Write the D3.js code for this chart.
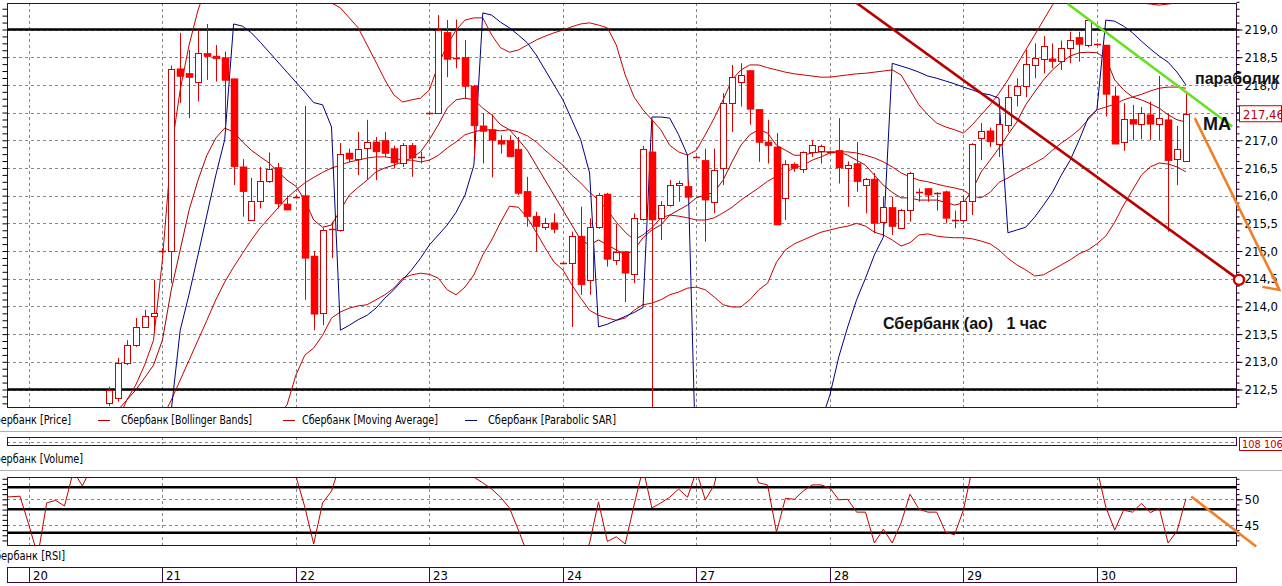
<!DOCTYPE html>
<html><head><meta charset="utf-8">
<script src="https://cdn.jsdelivr.net/npm/d3@7"></script>
<style>
html,body{margin:0;padding:0;background:#fff;overflow:hidden;}
svg{display:block;}
</style></head><body>
<svg id="c" width="1282" height="586"></svg>
<script>
// ---------- DATA ----------
const days = ["20","21","22","23","24","27","28","29","30"];
const dayStartIdx = [-9,6,21,36,51,66,81,96,111];
const open = [212.27,212.35,212.98,213.30,213.63,213.83,215.00,215.00,218.29,218.21,
218.05,218.57,218.52,218.49,218.11,216.52,215.56,215.90,216.28,216.51,
215.85,215.98,216.00,214.91,213.88,215.38,215.38,216.77,216.66,216.85,
216.97,217.00,216.85,216.59,216.91,216.70,217.49,217.49,218.95,218.49,
218.50,217.98,217.26,217.19,217.00,217.00,216.84,216.08,215.63,215.44,
215.51,214.78,214.78,215.27,214.48,215.44,216.03,214.85,214.99,214.58,
215.59,216.79,215.59,215.83,216.18,216.17,216.70,216.64,215.89,216.49,
217.67,218.06,218.26,217.56,216.97,216.88,215.95,216.57,216.49,216.79,
216.81,216.79,216.82,216.50,216.58,216.20,216.30,215.53,215.79,215.43,
215.75,216.06,216.13,216.05,216.07,215.56,215.56,215.90,217.05,217.17,
216.93,217.28,217.82,217.98,218.36,218.48,218.47,218.42,218.66,218.86,
218.72,218.73,218.72,217.80,216.96,217.38,217.29,217.46,217.29,217.37,
216.66,216.63];
const high = [212.55,213.07,213.39,213.79,213.94,214.48,215.05,218.35,218.94,218.63,
219.00,219.10,218.72,218.60,218.11,216.66,216.32,216.52,216.78,216.59,
216.00,216.02,217.62,215.00,215.42,215.53,216.95,216.85,217.15,217.37,
217.06,217.15,216.90,216.95,216.95,216.79,217.52,219.26,219.17,219.18,
218.81,218.00,217.49,217.47,217.09,217.09,217.06,216.34,215.71,215.60,
215.68,214.80,215.35,215.80,215.59,216.05,216.05,215.49,215.00,215.68,
216.90,217.37,215.90,216.28,216.27,216.28,216.72,216.85,216.85,217.85,
218.36,218.39,218.26,217.56,217.37,217.13,216.64,216.60,216.80,217.00,
216.92,216.81,217.40,216.62,216.97,216.32,216.41,215.98,215.98,215.76,
216.43,216.13,216.13,216.06,216.09,215.73,216.00,216.95,217.31,217.23,
217.49,218.00,218.12,218.63,218.75,218.88,218.75,218.80,218.96,218.96,
219.17,218.75,218.72,217.97,217.67,217.64,217.60,217.70,218.16,217.49,
217.26,217.85];
const low = [212.20,212.28,212.94,213.27,213.61,213.52,214.95,214.42,217.67,217.40,
217.70,218.09,218.06,217.25,216.19,215.62,215.56,215.77,216.23,215.77,
215.74,215.95,214.12,213.57,213.66,214.87,215.35,216.60,216.37,216.29,
216.28,216.70,216.49,216.52,216.34,216.58,217.46,217.49,218.14,218.30,
217.76,216.70,216.58,216.33,216.76,216.70,216.01,215.44,214.99,215.38,
215.32,214.76,213.63,214.21,214.21,215.40,214.72,214.75,214.08,214.42,
215.55,210.80,215.20,215.80,215.89,215.92,216.68,215.17,215.68,216.19,
217.15,217.61,217.28,216.61,216.58,215.47,215.56,216.43,216.41,216.70,
216.58,216.77,216.22,215.80,216.07,215.68,215.32,215.41,215.29,215.42,
215.53,215.89,215.89,215.73,215.50,215.41,215.50,215.65,216.64,216.88,
216.70,217.15,217.61,217.78,218.12,218.21,218.30,218.27,218.39,218.42,
218.68,218.71,217.43,216.93,216.81,217.00,217.02,217.00,217.00,215.35,
216.19,216.63];
const close = [212.50,212.98,213.30,213.63,213.83,213.89,215.00,218.29,218.15,218.13,
218.57,218.51,218.47,218.08,216.52,216.07,215.90,216.27,216.49,215.85,
215.74,215.98,214.87,213.86,215.38,215.39,216.75,216.66,216.84,216.96,
216.79,216.76,216.59,216.91,216.68,216.70,217.49,218.99,218.46,218.49,
217.97,217.26,217.16,217.00,216.93,216.70,216.04,215.62,215.44,215.51,
215.39,214.78,215.27,214.39,215.44,216.01,214.85,214.99,214.60,215.59,
216.85,215.56,215.83,216.19,216.22,215.97,216.70,215.92,216.46,217.67,
218.14,218.18,217.56,216.96,216.90,215.47,216.57,216.49,216.79,216.91,
216.90,216.79,216.50,216.56,216.25,216.30,215.50,215.80,215.44,215.75,
216.41,216.06,216.01,216.05,215.59,215.56,215.90,216.93,217.17,216.97,
217.29,217.78,217.98,218.38,218.48,218.71,218.42,218.66,218.81,218.73,
219.17,218.73,217.83,216.93,217.38,217.29,217.49,217.29,217.40,216.63,
216.84,217.47];
const bbUpper = [211.59,211.95,212.31,212.58,212.94,213.39,214.84,216.82,217.91,218.72,
219.35,219.80,220.08,220.26,220.35,220.35,220.35,220.35,220.26,220.17,
220.08,219.98,219.89,219.71,219.59,219.48,219.39,219.21,219.03,218.72,
218.41,218.09,217.82,217.69,217.73,217.76,217.91,218.36,218.72,218.99,
219.17,219.21,219.21,218.90,218.67,218.59,218.63,218.72,218.81,218.88,
218.94,218.99,219.05,219.10,219.12,219.08,219.03,218.72,218.18,217.78,
217.55,217.37,217.19,216.91,216.79,216.73,216.82,217.10,217.40,217.73,
218.09,218.27,218.36,218.36,218.31,218.27,218.23,218.20,218.18,218.16,
218.14,218.14,218.16,218.18,218.20,218.21,218.23,218.25,218.27,218.18,
217.91,217.64,217.46,217.31,217.24,217.19,217.13,217.28,217.46,217.64,
217.85,218.09,218.36,218.63,218.90,219.17,219.44,219.62,219.71,219.80,
219.80,219.75,219.68,219.60,219.53,219.50,219.48,219.46,219.44,219.46,
219.48,219.48];
const bbMiddle = [211.05,211.19,211.32,211.46,211.59,211.77,211.99,212.31,212.67,213.03,
213.39,213.75,214.12,214.44,214.71,214.96,215.20,215.42,215.60,215.78,
215.96,216.10,216.23,216.33,216.42,216.50,216.55,216.61,216.64,216.68,
216.70,216.70,216.68,216.64,216.64,216.61,216.64,216.73,216.86,216.97,
217.10,217.15,217.19,217.19,217.17,217.19,217.15,217.08,216.97,216.82,
216.68,216.55,216.37,216.23,216.06,215.92,215.74,215.52,215.34,215.20,
215.29,215.42,215.60,215.65,215.63,215.60,215.56,215.56,215.60,215.69,
215.79,215.92,216.03,216.14,216.26,216.35,216.42,216.50,216.55,216.64,
216.70,216.77,216.79,216.79,216.77,216.73,216.68,216.61,216.52,216.41,
216.34,216.28,216.25,216.21,216.17,216.14,216.10,215.99,215.96,216.06,
216.24,216.32,216.41,216.50,216.59,216.68,216.82,216.95,217.06,217.19,
217.37,217.55,217.60,217.65,217.73,217.78,217.83,217.89,217.94,217.96,
217.96,217.94];
const bbLower = [208.70,208.74,208.79,208.88,208.97,209.06,209.15,209.24,209.42,209.60,
209.78,210.05,210.32,210.59,210.86,211.14,211.41,211.62,211.80,212.04,
212.22,212.76,213.12,213.25,213.48,213.79,213.90,213.97,214.01,214.03,
214.12,214.21,214.33,214.51,214.57,214.60,214.58,214.51,214.30,214.21,
214.35,214.57,214.93,215.20,215.52,215.81,215.79,215.60,215.34,215.06,
214.80,214.66,214.39,214.15,213.93,213.84,213.79,213.75,213.79,213.93,
214.03,214.06,214.12,214.21,214.26,214.33,214.35,214.30,214.17,214.03,
213.99,213.99,214.12,214.30,214.42,214.80,215.02,215.13,215.20,215.27,
215.34,215.38,215.42,215.45,215.50,215.45,215.34,215.29,215.20,215.09,
215.15,215.29,215.31,215.27,215.25,215.24,215.24,215.22,215.18,215.13,
215.02,214.87,214.75,214.66,214.55,214.57,214.66,214.75,214.84,214.95,
215.02,215.13,215.27,215.52,215.83,216.10,216.37,216.52,216.59,216.57,
216.52,216.43];
const movingAvg = [211.95,212.13,212.31,212.49,212.71,212.94,213.39,214.30,215.02,215.74,
216.28,216.73,217.04,217.22,217.15,216.97,216.82,216.70,216.59,216.43,
216.28,216.17,215.92,215.56,215.43,215.47,215.74,216.01,216.15,216.28,
216.43,216.50,216.55,216.61,216.68,216.79,217.01,217.28,217.58,217.73,
217.76,217.73,217.58,217.46,217.28,217.19,217.01,216.82,216.55,216.28,
216.01,215.74,215.47,215.20,215.11,215.20,215.11,215.02,214.93,215.02,
215.24,215.38,215.47,215.65,215.74,215.83,215.96,216.01,216.06,216.28,
216.61,216.91,217.10,217.19,217.13,216.91,216.82,216.73,216.73,216.77,
216.79,216.79,216.79,216.73,216.64,216.55,216.37,216.19,216.06,215.96,
215.96,215.92,215.92,215.92,215.88,215.83,215.87,216.10,216.43,216.64,
216.86,217.10,217.33,217.64,217.87,218.09,218.27,218.41,218.52,218.58,
218.59,218.58,218.48,218.09,217.91,217.78,217.73,217.66,217.58,217.46,
217.37,217.33];
const sar = [209.50,209.80,210.10,210.40,210.80,211.20,211.60,212.13,213.57,214.22,
214.93,215.65,216.37,217.01,219.10,219.06,218.94,218.77,218.59,218.41,
218.23,218.05,217.87,217.68,217.64,217.24,213.57,213.66,213.76,213.84,
213.97,214.15,214.30,214.48,214.66,214.87,215.11,215.29,215.47,215.70,
216.01,216.55,219.30,219.26,219.13,219.03,218.90,218.76,218.54,218.27,
218.00,217.73,217.37,217.01,216.41,213.63,213.68,213.75,213.82,213.89,
213.98,217.42,217.42,217.40,217.10,216.73,210.80,210.88,210.96,211.04,
211.12,211.20,211.28,211.36,211.44,211.52,211.60,211.68,211.76,211.84,
211.92,212.40,213.09,213.63,214.12,214.51,214.93,215.25,218.39,218.34,
218.29,218.23,218.16,218.12,218.07,218.02,217.96,217.91,217.85,217.82,
217.76,215.33,215.38,215.43,215.61,215.83,216.06,216.37,216.64,217.00,
217.40,217.55,219.17,219.15,219.06,218.94,218.79,218.65,218.52,218.41,
218.23,218.00];
const rsiStart = -12;
const rsi = [50.4,50.5,50.6,45.0,39.0,49.3,49.8,48.7,55.5,52.6,
56.0,58.0,60,63,66,68,70,71,74,80,
78,77,78,77,76,73,63,60,58,60,
61,57,56,54.5,48.5,41.3,49.3,51.6,57,57,
58,58,57,57,56,57,56,56,60,66,
63,63,59,54.3,53.2,52.0,50.4,48.3,44.0,39.5,
38.5,39,38.5,36,39.5,37,41.5,49.5,41.8,42.7,
41.3,48.9,56,48.3,49.3,50.4,52.0,50.4,55.5,49.9,
52.8,60,64,64,58,53.2,52.8,43.6,50.2,50.0,
51.6,52.8,52.8,52.2,49.9,50.0,47.5,47.5,41.5,44.2,
41.5,45.4,51.0,48.1,47.5,47.5,43.6,43.1,47.9,56,
58,56,58,62,63,66,66,68,66,67,
68,66,69,56,48.5,44.0,47.9,47.5,49.2,47.4,
48.3,41.5,43.8,50.1];
const priceTicks = [212.5,213.0,213.5,214.0,214.5,215.0,215.5,216.0,216.5,217.0,217.5,218.0,218.5,219.0];
const rsiTicks = [45,50];
const priceLevels = [219.0,212.5];
const rsiLevels = [52.33,48.05,43.5];
const lastPrice = "217,46";
const volumeLabel = "108 106";
const legendItems = ["Сбербанк [Bollinger Bands]","Сбербанк [Moving Average]","Сбербанк [Parabolic SAR]"];
const title = "Сбербанк (ао)   1 час";
// annotations (index, price)
const trendRed = [[84.0,219.48],[126.97,214.48]];
const trendGreen = [[107.75,219.46],[126.2,217.25]];
const arrowOrange = [[122.0,217.40],[131.5,214.30]];
const arrowRsi = [[121.6,50.54],[128.9,40.8]];

// ---------- LAYOUT ----------
const svg = d3.select("#c");
const L=7, R=1236, T=3, B=407;
const RT=477, RB=545;
const NARROW = '"Liberation Sans Narrow","DejaVu Sans Condensed","Arial Narrow",sans-serif';
const BOLD = '"Liberation Sans",Arial,sans-serif';
const N = open.length;
const x = d3.scaleLinear().domain([0, 1]).range([109, 117.9]);
const y = d3.scaleLinear().domain([212.5, 219]).range([389.5, 29.5]);
const yr = d3.scaleLinear().domain([45, 50]).range([525, 499.3]);
const frameCol = "#3a0a3a";
const px = v => Math.round(v) + 0.5;

const defs = svg.append("defs");
defs.append("clipPath").attr("id","cpMain").append("rect").attr("x",L).attr("y",T).attr("width",R-L).attr("height",B-T);
defs.append("clipPath").attr("id","cpRsi").append("rect").attr("x",L).attr("y",RT).attr("width",R-L).attr("height",RB-RT);
defs.append("clipPath").attr("id","cpTop").append("rect").attr("x",0).attr("y",T).attr("width",1282).attr("height",586);

// ---------- MAIN PANEL ----------
const g = svg.append("g");
g.selectAll("line.hg").data(priceTicks).join("line")
  .attr("x1",L).attr("x2",R).attr("y1",d=>px(y(d))).attr("y2",d=>px(y(d)))
  .attr("stroke","#888").attr("stroke-dasharray","3,3").attr("stroke-width",1);
g.selectAll("line.vg").data(dayStartIdx).join("line")
  .attr("x1",d=>px(x(d))).attr("x2",d=>px(x(d))).attr("y1",T).attr("y2",B)
  .attr("stroke","#888").attr("stroke-dasharray","3,3");
g.selectAll("line.lv").data(priceLevels).join("line")
  .attr("x1",L).attr("x2",R).attr("y1",d=>y(d)).attr("y2",d=>y(d))
  .attr("stroke","#000").attr("stroke-width",2.6);

const clipG = svg.append("g").attr("clip-path","url(#cpMain)");
const idx = d3.range(N);
function drawLine(arr, col, w){
  clipG.append("path").datum(idx)
    .attr("d", d3.line().x(i=>x(i)).y(i=>y(arr[i])))
    .attr("fill","none").attr("stroke",col).attr("stroke-width",w||1);
}
drawLine(bbUpper,"#c80000");
drawLine(bbMiddle,"#c80000");
drawLine(bbLower,"#c80000");
drawLine(movingAvg,"#a80000");
drawLine(sar,"#000080");

// candles
const cg = clipG.append("g");
idx.forEach(i=>{
  const cx = Math.round(x(i)) + 0.5;
  cg.append("line").attr("x1",cx).attr("x2",cx).attr("y1",y(high[i])).attr("y2",y(low[i]))
    .attr("stroke","#e00000").attr("stroke-width",1);
  const o=open[i], c=close[i];
  const top=y(Math.max(o,c)), bot=y(Math.min(o,c));
  if (Math.abs(o-c) < 0.02){
    cg.append("line").attr("x1",cx-3.5).attr("x2",cx+3.5).attr("y1",px(top)).attr("y2",px(top))
      .attr("stroke","#e00000").attr("stroke-width",1.5);
  } else if (c < o){
    cg.append("rect").attr("x",cx-3.5).attr("y",top).attr("width",7).attr("height",Math.max(1,bot-top))
      .attr("fill","#ff0000").attr("stroke","#f00000").attr("stroke-width",0.5);
  } else {
    cg.append("rect").attr("x",cx-3).attr("y",Math.round(top)+0.5).attr("width",6).attr("height",Math.max(1,Math.round(bot-top)))
      .attr("fill","#fff").attr("stroke","#d00000").attr("stroke-width",1);
  }
});

svg.append("rect").attr("x",L+0.5).attr("y",T+0.5).attr("width",R-L).attr("height",B-T)
  .attr("fill","none").attr("stroke",frameCol);

// right axis
const minorTicks = d3.range(212.25, 219.51, 0.125);
const axR = svg.append("g").attr("transform",`translate(${R+0.5},0)`)
  .call(d3.axisRight(y).tickValues(minorTicks).tickSize(3).tickFormat(""));
axR.select(".domain").remove();
axR.selectAll("line").attr("stroke","#000");
const axR2 = svg.append("g").attr("transform",`translate(${R+0.5},0)`)
  .call(d3.axisRight(y).tickValues(priceTicks).tickSize(6).tickPadding(2).tickFormat(d=>d.toFixed(1).replace(".",",")));
axR2.select(".domain").remove();
axR2.selectAll("line").attr("stroke","#000");
axR2.selectAll("text").attr("font-family",NARROW).attr("font-size",13).attr("fill","#000");
const axL = svg.append("g").attr("transform",`translate(${L+0.5},0)`)
  .call(d3.axisLeft(y).tickValues(minorTicks.filter(d=>y(d)>T && y(d)<B)).tickSize(5).tickFormat(""));
axL.select(".domain").remove();
axL.selectAll("line").attr("stroke","#000");

svg.append("rect").attr("x",1239.5).attr("y",y(217.47)-8.5).attr("width",42).attr("height",16)
  .attr("fill","#fff").attr("stroke","#c00000");
svg.append("text").attr("x",1243).attr("y",y(217.47)+4.5).text(lastPrice)
  .attr("font-family",NARROW).attr("font-size",13).attr("fill","#c00000");

// annotations
const topG = svg.append("g").attr("clip-path","url(#cpTop)");
const ln = d3.line().x(d=>x(d[0])).y(d=>y(d[1]));
topG.append("path").attr("d",ln(trendRed)).attr("stroke","#b80000").attr("stroke-width",2.6).attr("fill","none");
topG.append("path").attr("d",ln(trendGreen)).attr("stroke","#66e020").attr("stroke-width",2.6).attr("fill","none");
svg.append("path").attr("d",ln(arrowOrange)).attr("stroke","#f08028").attr("stroke-width",2.6).attr("fill","none");
{
  const tx=x(arrowOrange[1][0]), ty=y(arrowOrange[1][1]);
  svg.append("path").attr("d",`M${tx-17},${ty-3} L${tx},${ty} L${tx-7},${ty-16}`)
    .attr("stroke","#f08028").attr("stroke-width",2.4).attr("fill","none");
}
svg.append("circle").attr("cx",x(trendRed[1][0])).attr("cy",y(trendRed[1][1])).attr("r",5)
  .attr("fill","#fff").attr("stroke","#d00000").attr("stroke-width",2.4);

svg.append("text").attr("x",883).attr("y",329).text(title)
  .attr("font-family",BOLD).attr("font-weight","bold").attr("font-size",16).attr("fill","#111").attr("xml:space","preserve").style("white-space","pre");
svg.append("text").attr("x",1195).attr("y",84).text("параболик")
  .attr("font-family",BOLD).attr("font-weight","bold").attr("font-size",16).attr("fill","#111");
svg.append("text").attr("x",1203).attr("y",130).text("MA")
  .attr("font-family",BOLD).attr("font-weight","bold").attr("font-size",18).attr("fill","#111");

// ---------- LEGEND ----------
svg.append("text").attr("x",-12).attr("y",424).text("Сбербанк [Price]")
  .attr("font-family",NARROW).attr("font-size",12).attr("textLength",83).attr("lengthAdjust","spacingAndGlyphs");
const legX = [[98,110,121,131,"#c00000"],[283,295,302,136,"#c00000"],[465,477,488,128,"#000080"]];
legendItems.forEach((t,k)=>{
  const [a,b,tx,tl,col]=legX[k];
  svg.append("line").attr("x1",a).attr("x2",b).attr("y1",420.5).attr("y2",420.5).attr("stroke",col);
  svg.append("text").attr("x",tx).attr("y",424).text(t)
    .attr("font-family",NARROW).attr("font-size",12).attr("textLength",tl).attr("lengthAdjust","spacingAndGlyphs");
});
svg.append("line").attr("x1",0).attr("x2",1282).attr("y1",431.5).attr("y2",431.5).attr("stroke","#b0b0b0");

// ---------- VOLUME STRIP ----------
svg.append("line").attr("x1",L).attr("x2",R).attr("y1",442.5).attr("y2",442.5).attr("stroke","#888").attr("stroke-dasharray","3,3");
svg.selectAll("line.vv").data(dayStartIdx).join("line")
  .attr("x1",d=>px(x(d))).attr("x2",d=>px(x(d))).attr("y1",438).attr("y2",446)
  .attr("stroke","#888").attr("stroke-dasharray","2,2");
svg.append("rect").attr("x",L+0.5).attr("y",437.5).attr("width",R-L).attr("height",8)
  .attr("fill","none").attr("stroke",frameCol);
svg.append("rect").attr("x",1239.5).attr("y",437.5).attr("width",45).attr("height",13)
  .attr("fill","#fff").attr("stroke","#c00000");
svg.append("text").attr("x",1242).attr("y",448).text(volumeLabel)
  .attr("font-family",NARROW).attr("font-size",11).attr("fill","#c00000");
svg.append("text").attr("x",-12).attr("y",463).text("Сбербанк [Volume]")
  .attr("font-family",NARROW).attr("font-size",12).attr("textLength",95).attr("lengthAdjust","spacingAndGlyphs");
svg.append("line").attr("x1",0).attr("x2",1282).attr("y1",470.5).attr("y2",470.5).attr("stroke","#b0b0b0");

// ---------- RSI PANEL ----------
svg.selectAll("line.rg").data(rsiTicks).join("line")
  .attr("x1",L).attr("x2",R).attr("y1",d=>px(yr(d))).attr("y2",d=>px(yr(d)))
  .attr("stroke","#888").attr("stroke-dasharray","3,3");
svg.selectAll("line.rv").data(dayStartIdx).join("line")
  .attr("x1",d=>px(x(d))).attr("x2",d=>px(x(d))).attr("y1",RT).attr("y2",RB)
  .attr("stroke","#888").attr("stroke-dasharray","3,3");
svg.selectAll("line.rl").data(rsiLevels).join("line")
  .attr("x1",L).attr("x2",R).attr("y1",d=>yr(d)).attr("y2",d=>yr(d))
  .attr("stroke","#000").attr("stroke-width",2.6);
svg.append("g").attr("clip-path","url(#cpRsi)").append("path")
  .datum(d3.range(rsi.length))
  .attr("d",d3.line().x(j=>x(j+rsiStart)).y(j=>yr(rsi[j])))
  .attr("fill","none").attr("stroke","#c00000").attr("stroke-width",1);
svg.append("rect").attr("x",L+0.5).attr("y",RT+0.5).attr("width",R-L).attr("height",RB-RT)
  .attr("fill","none").attr("stroke",frameCol);
const rMinor = d3.range(42,55,1);
const axRr = svg.append("g").attr("transform",`translate(${R+0.5},0)`)
  .call(d3.axisRight(yr).tickValues(rMinor).tickSize(3).tickFormat(""));
axRr.select(".domain").remove(); axRr.selectAll("line").attr("stroke","#000");
const axRr2 = svg.append("g").attr("transform",`translate(${R+0.5},0)`)
  .call(d3.axisRight(yr).tickValues(rsiTicks).tickSize(6).tickPadding(2).tickFormat(d3.format("d")));
axRr2.select(".domain").remove(); axRr2.selectAll("line").attr("stroke","#000");
axRr2.selectAll("text").attr("font-family",NARROW).attr("font-size",13).attr("fill","#000");
const axRl = svg.append("g").attr("transform",`translate(${L+0.5},0)`)
  .call(d3.axisLeft(yr).tickValues(rMinor.filter(d=>yr(d)>RT && yr(d)<RB)).tickSize(5).tickFormat(""));
axRl.select(".domain").remove(); axRl.selectAll("line").attr("stroke","#000");
svg.append("path").attr("d",d3.line().x(d=>x(d[0])).y(d=>yr(d[1]))(arrowRsi))
  .attr("stroke","#f08028").attr("stroke-width",2.6).attr("fill","none");
svg.append("text").attr("x",-12).attr("y",560).text("Сбербанк [RSI]")
  .attr("font-family",NARROW).attr("font-size",12).attr("textLength",77).attr("lengthAdjust","spacingAndGlyphs");

// ---------- DATE ROW ----------
svg.append("rect").attr("x",L+0.5).attr("y",567.5).attr("width",R-L).attr("height",15)
  .attr("fill","none").attr("stroke",frameCol);
svg.selectAll("line.dd").data(dayStartIdx).join("line")
  .attr("x1",d=>px(x(d))).attr("x2",d=>px(x(d))).attr("y1",567.5).attr("y2",582.5).attr("stroke",frameCol);
svg.selectAll("text.dl").data(days).join("text")
  .attr("x",(d,k)=>Math.round(x(dayStartIdx[k]))+4).attr("y",580).text(d=>d)
  .attr("font-family",NARROW).attr("font-size",13).attr("fill","#000");
</script>
</body></html>
